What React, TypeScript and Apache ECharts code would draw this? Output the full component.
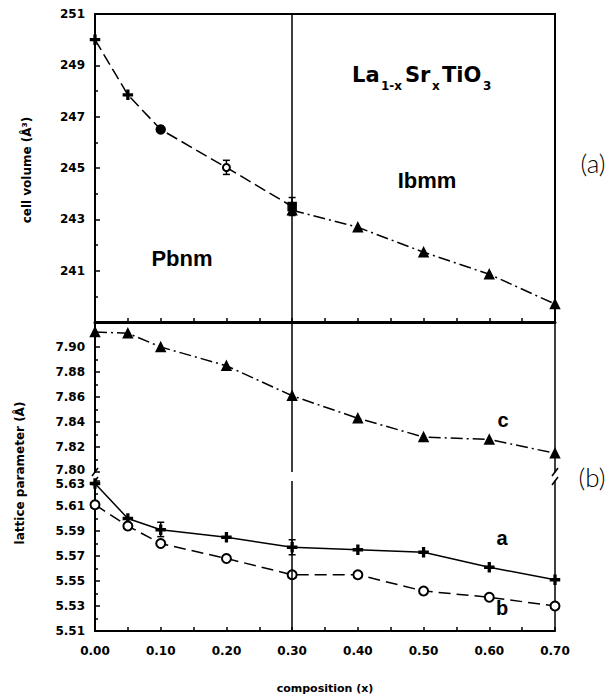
import React, { useEffect, useRef } from 'react';
import * as echarts from 'echarts';

// ---- data ----
const pbnmX = [0, 0.05, 0.1, 0.2, 0.3];
const pbnmVolume = [250.0, 247.85, 246.5, 245.02, 243.5];
const pbnmSymbols = ['plus', 'plus', 'circle', 'emptyCircle', 'rect'];
const ibmmX = [0.3, 0.4, 0.5, 0.6, 0.7];
const ibmmVolume = [243.35, 242.69, 241.72, 240.86, 239.7];
const volumeErrX = [0.2, 0.3];
const volumeErrLow = [244.75, 243.15];
const volumeErrHigh = [245.3, 243.85];

const latticeX = [0, 0.05, 0.1, 0.2, 0.3, 0.4, 0.5, 0.6, 0.7];
const latticeC = [7.912, 7.911, 7.9, 7.885, 7.861, 7.843, 7.828, 7.826, 7.815];
const latticeA = [5.628, 5.6, 5.591, 5.585, 5.577, 5.575, 5.573, 5.561, 5.551];
const latticeB = [5.611, 5.594, 5.58, 5.568, 5.555, 5.555, 5.542, 5.537, 5.53];
const aErrX = [0.1, 0.3];
const aErrLow = [5.5855, 5.571];
const aErrHigh = [5.597, 5.583];

const xPhaseBoundary = 0.3;

// ---- layout ----
const L = 95;
const W = 460;
const R = L + W;
const G0 = { top: 14, height: 308 };
const G1 = { top: 322, height: 150 };
const G2 = { top: 481, height: 150 };

const PLUS = 'path://M4,0h2v4h4v2h-4v4h-2v-4h-4v-2h4z';
const TICK_FONT = { fontFamily: 'DejaVu Sans', fontWeight: 'bold' as const, fontSize: 12, color: '#000' };
const FORMULA_FONT = 'bold 21px "DejaVu Sans", sans-serif';
const SUB_FONT = 'bold 12px "DejaVu Sans", sans-serif';

function symbolFor(s: string) {
  if (s === 'plus') return PLUS;
  return s;
}

function errorBar(params: any, api: any) {
  const x = api.value(0);
  const lo = api.value(1);
  const hi = api.value(2);
  const p1 = api.coord([x, hi]);
  const p2 = api.coord([x, lo]);
  const w = 3.5;
  const st = { stroke: '#000', lineWidth: 1.5 };
  return {
    type: 'group',
    children: [
      { type: 'line', shape: { x1: p1[0], y1: p1[1], x2: p2[0], y2: p2[1] }, style: st },
      { type: 'line', shape: { x1: p1[0] - w, y1: p1[1], x2: p1[0] + w, y2: p1[1] }, style: st },
      { type: 'line', shape: { x1: p2[0] - w, y1: p2[1], x2: p2[0] + w, y2: p2[1] }, style: st },
    ],
  };
}

function xAxisBase(gridIndex: number) {
  return {
    type: 'value' as const,
    gridIndex,
    min: 0,
    max: 0.7,
    interval: 0.1,
    axisLine: { show: true, lineStyle: { color: '#000', width: 2 } },
    axisTick: { show: true, inside: true, length: 4, lineStyle: { color: '#000', width: 1.5 } },
    minorTick: { show: true, splitNumber: 2, length: 4, lineStyle: { color: '#000', width: 1.5 } },
    splitLine: { show: false },
    axisLabel: { show: false },
  };
}

function yAxisLeft(gridIndex: number, min: number, max: number, interval: number, digits: number, shiftMin = 0, shiftMax = 0) {
  return {
    type: 'value' as const,
    gridIndex,
    position: 'left' as const,
    min,
    max,
    interval,
    axisLine: { show: true, lineStyle: { color: '#000', width: 2 } },
    axisTick: { show: true, inside: true, length: 5, lineStyle: { color: '#000', width: 1.5 } },
    minorTick: { show: true, splitNumber: 2, length: 3, lineStyle: { color: '#000', width: 1.5 } },
    splitLine: { show: false },
    axisLabel: {
      ...TICK_FONT,
      margin: 10,
      formatter: (v: number) => {
        const t = v.toFixed(digits);
        if (shiftMin && Math.abs(v - min) < 1e-9) return `{lift|${t}}`;
        if (shiftMax && Math.abs(v - max) < 1e-9) return `{drop|${t}}`;
        return t;
      },
      rich: {
        lift: { ...TICK_FONT, padding: [0, 0, shiftMin, 0] },
        drop: { ...TICK_FONT, padding: [shiftMax, 0, 0, 0] },
      },
    },
  };
}

function yAxisRight(gridIndex: number, min: number, max: number) {
  return {
    type: 'value' as const,
    gridIndex,
    position: 'right' as const,
    min,
    max,
    axisLine: { show: true, lineStyle: { color: '#000', width: 1.5 } },
    axisTick: { show: false },
    axisLabel: { show: false },
    splitLine: { show: false },
  };
}

const boundaryLine = {
  silent: true,
  symbol: 'none',
  label: { show: false },
  lineStyle: { color: '#000', type: 'solid' as const, width: 1.5 },
  data: [{ xAxis: xPhaseBoundary }],
};

function slash(cx: number, cy: number) {
  return {
    type: 'line',
    shape: { x1: cx - 3, y1: cy + 4, x2: cx + 3, y2: cy - 4 },
    style: { stroke: '#000', lineWidth: 1.5 },
  };
}

function label(text: string, x: number, y: number, size: number) {
  return {
    type: 'text',
    x,
    y,
    style: {
      text,
      fill: '#000',
      font: `bold ${size}px "Liberation Sans", Arial, sans-serif`,
      textAlign: 'center',
      textVerticalAlign: 'middle',
    },
  };
}

function formulaPart(text: string, x: number, y: number, font: string) {
  return { type: 'text', x, y, style: { text, fill: '#000', font, textAlign: 'left', textVerticalAlign: 'bottom' } };
}

export default function App() {
  const ref = useRef<HTMLDivElement>(null);
  useEffect(() => {
    document.body.style.margin = '0';
    if (!ref.current) return;
    const chart = echarts.init(ref.current, null, { renderer: 'svg' });

    const topY: any = yAxisLeft(0, 239, 251, 2, 0);
    topY.axisLabel.showMinLabel = false;
    const upY: any = yAxisLeft(1, 7.8, 7.92, 0.02, 2, 5, 0);
    upY.axisLabel.showMaxLabel = false;
    const lowY: any = yAxisLeft(2, 5.51, 5.63, 0.02, 2, 0, 5);

    const x0: any = xAxisBase(0);
    x0.axisLine.lineStyle.width = 3;
    const x1: any = xAxisBase(1);
    x1.axisLine.show = false;
    x1.axisTick.show = false;
    x1.minorTick.show = false;
    const x2: any = xAxisBase(2);
    x2.axisLabel = {
      show: true,
      ...TICK_FONT,
      margin: 14,
      formatter: (v: number) => v.toFixed(2),
    };

    const lineCommon = {
      type: 'line' as const,
      animation: false,
      clip: false,
      symbolSize: 9,
      itemStyle: { color: '#000', borderColor: '#000', borderWidth: 1.5 },
    };

    const option: any = {
      animation: false,
      backgroundColor: '#fff',
      grid: [
        { left: L, width: W, top: G0.top, height: G0.height, show: true, borderColor: '#000', borderWidth: 2 },
        { left: L, width: W, top: G1.top, height: G1.height },
        { left: L, width: W, top: G2.top, height: G2.height },
      ],
      xAxis: [x0, x1, x2],
      yAxis: [topY, upY, lowY, yAxisRight(1, 7.8, 7.92), yAxisRight(2, 5.51, 5.63)],
      series: [
        {
          ...lineCommon,
          name: 'Pbnm volume',
          xAxisIndex: 0,
          yAxisIndex: 0,
          lineStyle: { color: '#000', width: 1.5, type: [12, 5] },
          data: pbnmX.map((x, i) => ({
            value: [x, pbnmVolume[i]],
            symbol: symbolFor(pbnmSymbols[i]),
            symbolSize: pbnmSymbols[i] === 'rect' ? 8 : pbnmSymbols[i] === 'emptyCircle' ? 7 : 9,
          })),
          markLine: boundaryLine,
        },
        {
          ...lineCommon,
          name: 'Ibmm volume',
          xAxisIndex: 0,
          yAxisIndex: 0,
          symbol: 'triangle',
          lineStyle: { color: '#000', width: 1.5, type: [12, 4, 2, 4] },
          data: ibmmX.map((x, i) => [x, ibmmVolume[i]]),
        },
        {
          type: 'custom',
          name: 'volume error',
          xAxisIndex: 0,
          yAxisIndex: 0,
          renderItem: errorBar,
          encode: { x: 0, y: [1, 2] },
          data: volumeErrX.map((x, i) => [x, volumeErrLow[i], volumeErrHigh[i]]),
        },
        {
          ...lineCommon,
          name: 'c',
          xAxisIndex: 1,
          yAxisIndex: 1,
          symbol: 'triangle',
          lineStyle: { color: '#000', width: 1.5, type: [12, 4, 2, 4] },
          data: latticeX.map((x, i) => [x, latticeC[i]]),
          markLine: boundaryLine,
        },
        {
          ...lineCommon,
          name: 'a',
          xAxisIndex: 2,
          yAxisIndex: 2,
          symbol: PLUS,
          lineStyle: { color: '#000', width: 1.5, type: 'solid' },
          data: latticeX.map((x, i) => [x, latticeA[i]]),
          markLine: boundaryLine,
        },
        {
          ...lineCommon,
          name: 'b',
          xAxisIndex: 2,
          yAxisIndex: 2,
          symbol: 'emptyCircle',
          symbolSize: 9,
          itemStyle: { color: '#000', borderColor: '#000', borderWidth: 1.5 },
          lineStyle: { color: '#000', width: 1.5, type: [12, 6] },
          data: latticeX.map((x, i) => [x, latticeB[i]]),
        },
        {
          type: 'custom',
          name: 'a error',
          xAxisIndex: 2,
          yAxisIndex: 2,
          renderItem: errorBar,
          encode: { x: 0, y: [1, 2] },
          data: aErrX.map((x, i) => [x, aErrLow[i], aErrHigh[i]]),
        },
      ],
      graphic: [
        slash(L, G1.top + G1.height),
        slash(L, G2.top),
        slash(R, G1.top + G1.height),
        slash(R, G2.top),
        label('Pbnm', 182, 258, 22),
        label('Ibmm', 427, 180, 22),
        formulaPart('La', 352, 85, FORMULA_FONT),
        formulaPart('1-x', 381, 92, SUB_FONT),
        formulaPart('Sr', 405, 85, FORMULA_FONT),
        formulaPart('x', 432, 92, SUB_FONT),
        formulaPart('TiO', 442, 85, FORMULA_FONT),
        formulaPart('3', 483, 92, SUB_FONT),
        label('c', 503, 420, 20),
        label('a', 502, 538, 20),
        label('b', 502, 608, 20),
        {
          type: 'text', x: 593, y: 163,
          style: { text: '(a)', fill: '#000', font: '300 26px Lato, "DejaVu Sans", sans-serif', textAlign: 'center', textVerticalAlign: 'middle' },
        },
        {
          type: 'text', x: 592, y: 477,
          style: { text: '(b)', fill: '#000', font: '300 26px Lato, "DejaVu Sans", sans-serif', textAlign: 'center', textVerticalAlign: 'middle' },
        },
        {
          type: 'text', x: 27, y: 170, rotation: Math.PI / 2,
          style: { text: 'cell volume (Å³)', fill: '#000', font: 'bold 12px "DejaVu Sans", sans-serif', textAlign: 'center', textVerticalAlign: 'middle' },
        },
        {
          type: 'text', x: 20, y: 473, rotation: Math.PI / 2,
          style: { text: 'lattice parameter (Å)', fill: '#000', font: 'bold 12px "DejaVu Sans", sans-serif', textAlign: 'center', textVerticalAlign: 'middle' },
        },
        {
          type: 'text', x: 325, y: 688,
          style: { text: 'composition (x)', fill: '#000', font: 'bold 11px "DejaVu Sans", sans-serif', textAlign: 'center', textVerticalAlign: 'middle' },
        },
      ],
    };
    chart.setOption(option);
    return () => chart.dispose();
  }, []);
  return <div ref={ref} style={{ width: 616, height: 698, background: '#fff' }} />;
}
